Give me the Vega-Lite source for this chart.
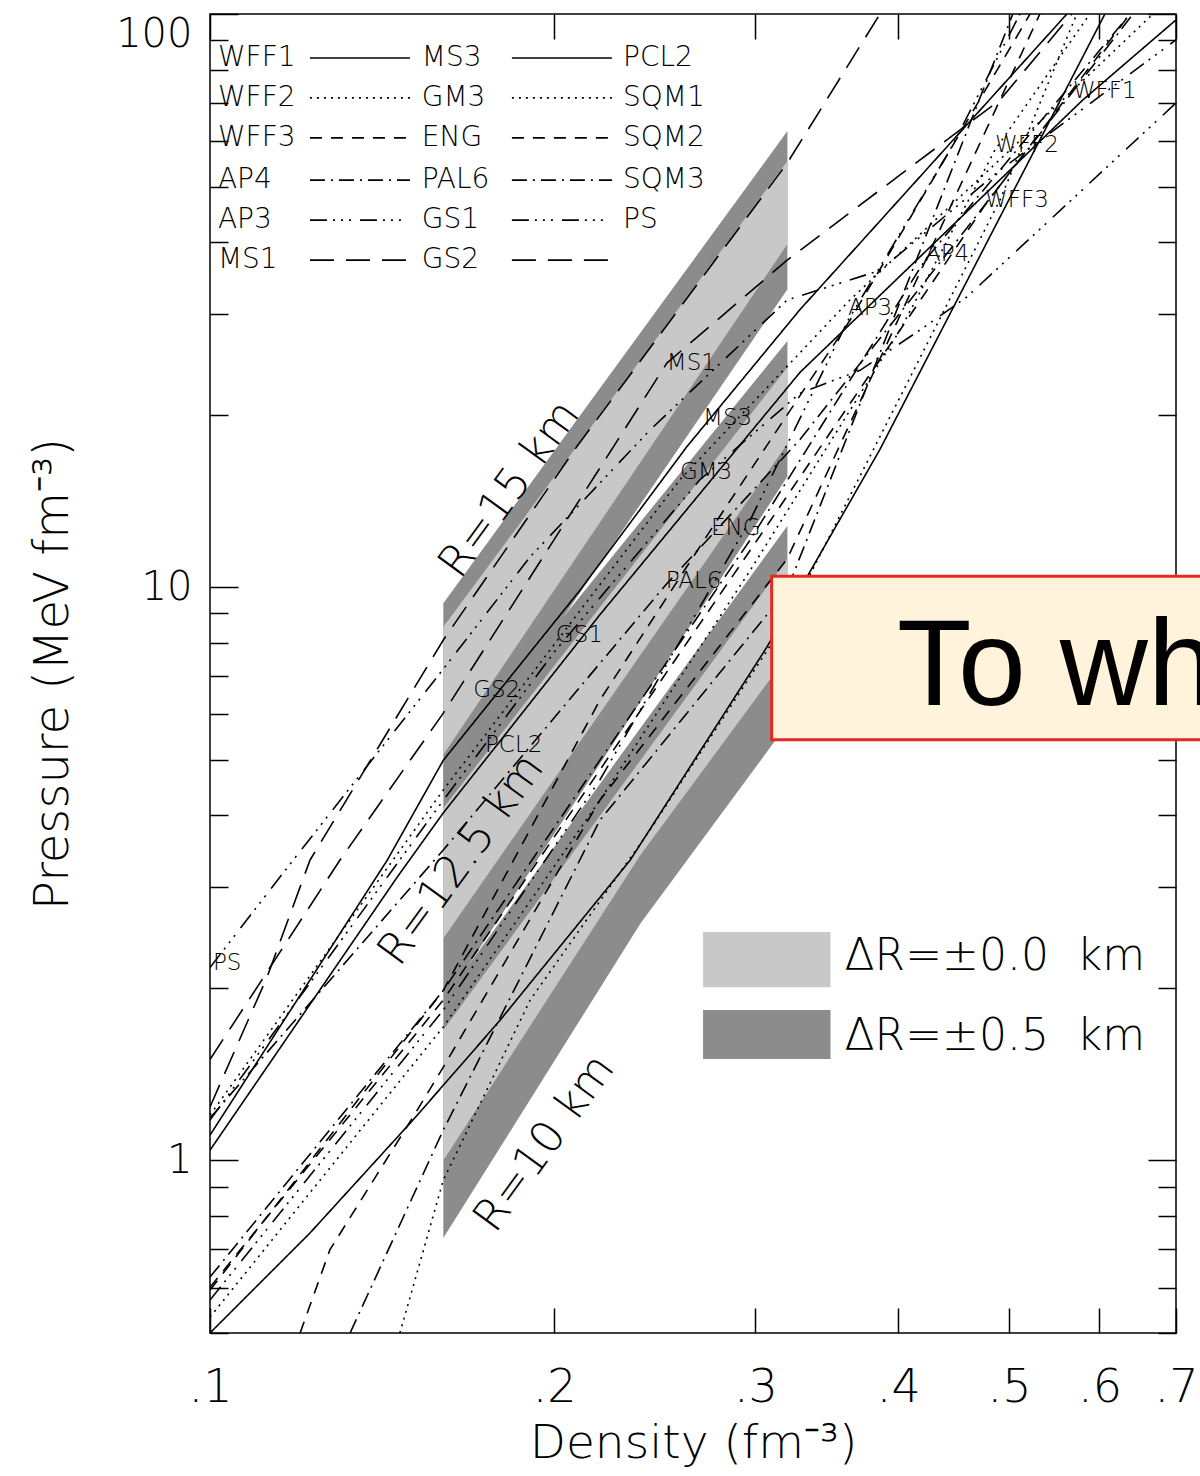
{
  "$schema": "https://vega.github.io/schema/vega-lite/v6.json",
  "width": 966,
  "height": 1319,
  "autosize": {"type": "none"},
  "padding": {"left": 210, "top": 14, "right": 24, "bottom": 143},
  "background": "white",
  "config": {
    "view": {"stroke": "black", "strokeWidth": 1.5},
    "font": "DejaVu Sans",
    "axis": {
      "domain": false,
      "grid": false,
      "tickColor": "black",
      "tickWidth": 1.5,
      "labelColor": "black",
      "titleColor": "black",
      "labelFont": "DejaVu Sans",
      "titleFont": "DejaVu Sans",
      "labelFontWeight": 200,
      "titleFontWeight": 200,
      "labelOverlap": false,
      "labelFlush": false
    }
  },
  "datasets": {
    "bandsDark": [
      {"R": "15", "d": 0.16, "lo": 4.38, "hi": 9.38},
      {"R": "15", "d": 0.32, "lo": 33.1, "hi": 62.5},
      {"R": "12.5", "d": 0.16, "lo": 1.875, "hi": 4.9},
      {"R": "12.5", "d": 0.32, "lo": 15.6, "hi": 26.9},
      {"R": "10", "d": 0.16, "lo": 0.732, "hi": 1.905},
      {"R": "10", "d": 0.238, "lo": 2.59, "hi": 5.68},
      {"R": "10", "d": 0.32, "lo": 5.77, "hi": 12.8}
    ],
    "bandsLight": [
      {"R": "15", "d": 0.16, "lo": 5.1, "hi": 8.52},
      {"R": "15", "d": 0.32, "lo": 39.7, "hi": 55.4},
      {"R": "12.5", "d": 0.16, "lo": 2.44, "hi": 4.12},
      {"R": "12.5", "d": 0.32, "lo": 17.8, "hi": 24.2},
      {"R": "10", "d": 0.16, "lo": 1.0, "hi": 1.688},
      {"R": "10", "d": 0.238, "lo": 3.41, "hi": 4.99},
      {"R": "10", "d": 0.32, "lo": 7.59, "hi": 11.2}
    ],
    "bandLabels": [
      {"label": "R=15 km", "d": 0.183, "P": 14.8},
      {"label": "R=12.5 km", "d": 0.166, "P": 3.34},
      {"label": "R=10 km", "d": 0.1963, "P": 1.07}
    ],
    "bandKey": [
      {"label": "ΔR=±0.0\u00a0\u00a0km", "d1": 0.27, "d2": 0.349, "p1": 2.006, "p2": 2.503, "pt": 2.264, "dt": 0.359},
      {"label": "ΔR=±0.5\u00a0\u00a0km", "d1": 0.27, "d2": 0.349, "p1": 1.503, "p2": 1.83, "pt": 1.642, "dt": 0.359}
    ],
    "eos": [
      {"eos": "WFF1", "style": "solid", "d": 0.1, "P": 0.5},
      {"eos": "WFF1", "style": "solid", "d": 0.1223, "P": 0.747},
      {"eos": "WFF1", "style": "solid", "d": 0.1505, "P": 1.176},
      {"eos": "WFF1", "style": "solid", "d": 0.1794, "P": 1.757},
      {"eos": "WFF1", "style": "solid", "d": 0.2331, "P": 3.34},
      {"eos": "WFF1", "style": "solid", "d": 0.307, "P": 7.86},
      {"eos": "WFF1", "style": "solid", "d": 0.3856, "P": 17.4},
      {"eos": "WFF1", "style": "solid", "d": 0.6066, "P": 100},

      {"eos": "WFF2", "style": "dotted", "d": 0.1, "P": 0.533},
      {"eos": "WFF2", "style": "dotted", "d": 0.16, "P": 1.71},
      {"eos": "WFF2", "style": "dotted", "d": 0.2193, "P": 4.25},
      {"eos": "WFF2", "style": "dotted", "d": 0.2969, "P": 10.7},
      {"eos": "WFF2", "style": "dotted", "d": 0.4015, "P": 28.1},
      {"eos": "WFF2", "style": "dotted", "d": 0.4861, "P": 57.9},
      {"eos": "WFF2", "style": "dotted", "d": 0.5884, "P": 100},

      {"eos": "WFF3", "style": "dashed", "d": 0.1, "P": 0.601},
      {"eos": "WFF3", "style": "dashed", "d": 0.16, "P": 1.905},
      {"eos": "WFF3", "style": "dashed", "d": 0.2193, "P": 4.8},
      {"eos": "WFF3", "style": "dashed", "d": 0.2969, "P": 11.6},
      {"eos": "WFF3", "style": "dashed", "d": 0.4015, "P": 28.1},
      {"eos": "WFF3", "style": "dashed", "d": 0.4764, "P": 46.4},
      {"eos": "WFF3", "style": "dashed", "d": 0.638, "P": 100},

      {"eos": "AP4", "style": "dashdot", "d": 0.1, "P": 0.626},
      {"eos": "AP4", "style": "dashdot", "d": 0.16, "P": 1.98},
      {"eos": "AP4", "style": "dashdot", "d": 0.2193, "P": 4.99},
      {"eos": "AP4", "style": "dashdot", "d": 0.2969, "P": 12.1},
      {"eos": "AP4", "style": "dashdot", "d": 0.4222, "P": 37.2},
      {"eos": "AP4", "style": "dashdot", "d": 0.6005, "P": 86.5},
      {"eos": "AP4", "style": "dashdot", "d": 0.638, "P": 100},

      {"eos": "AP3", "style": "dashdotdot", "d": 0.1, "P": 0.571},
      {"eos": "AP3", "style": "dashdotdot", "d": 0.16, "P": 1.83},
      {"eos": "AP3", "style": "dashdotdot", "d": 0.2193, "P": 4.61},
      {"eos": "AP3", "style": "dashdotdot", "d": 0.2969, "P": 13.1},
      {"eos": "AP3", "style": "dashdotdot", "d": 0.3615, "P": 29.2},
      {"eos": "AP3", "style": "dashdotdot", "d": 0.444, "P": 57.9},
      {"eos": "AP3", "style": "dashdotdot", "d": 0.5112, "P": 100},

      {"eos": "MS1", "style": "longdash", "d": 0.1, "P": 1.24},
      {"eos": "MS1", "style": "longdash", "d": 0.1122, "P": 2.09},
      {"eos": "MS1", "style": "longdash", "d": 0.1223, "P": 3.34},
      {"eos": "MS1", "style": "longdash", "d": 0.16, "P": 8.09},
      {"eos": "MS1", "style": "longdash", "d": 0.2094, "P": 17.6},
      {"eos": "MS1", "style": "longdash", "d": 0.3198, "P": 54.9},
      {"eos": "MS1", "style": "longdash", "d": 0.3856, "P": 100},

      {"eos": "MS3", "style": "solid", "d": 0.1, "P": 1.107},
      {"eos": "MS3", "style": "solid", "d": 0.1429, "P": 3.34},
      {"eos": "MS3", "style": "solid", "d": 0.16, "P": 4.99},
      {"eos": "MS3", "style": "solid", "d": 0.2108, "P": 9.89},
      {"eos": "MS3", "style": "solid", "d": 0.2614, "P": 17.6},
      {"eos": "MS3", "style": "solid", "d": 0.3282, "P": 30.5},
      {"eos": "MS3", "style": "solid", "d": 0.5619, "P": 100},

      {"eos": "GM3", "style": "dotted", "d": 0.1, "P": 1.2},
      {"eos": "GM3", "style": "dotted", "d": 0.16, "P": 4.43},
      {"eos": "GM3", "style": "dotted", "d": 0.2577, "P": 15.4},
      {"eos": "GM3", "style": "dotted", "d": 0.3629, "P": 31.7},
      {"eos": "GM3", "style": "dotted", "d": 0.5011, "P": 57.9},
      {"eos": "GM3", "style": "dotted", "d": 0.6682, "P": 100},

      {"eos": "ENG", "style": "dashed", "d": 0.1, "P": 0.594},
      {"eos": "ENG", "style": "dashed", "d": 0.16, "P": 1.98},
      {"eos": "ENG", "style": "dashed", "d": 0.2193, "P": 6.35},
      {"eos": "ENG", "style": "dashed", "d": 0.2743, "P": 12.6},
      {"eos": "ENG", "style": "dashed", "d": 0.3629, "P": 29.2},
      {"eos": "ENG", "style": "dashed", "d": 0.5217, "P": 100},

      {"eos": "PAL6", "style": "dashdot", "d": 0.1, "P": 1.186},
      {"eos": "PAL6", "style": "dashdot", "d": 0.16, "P": 3.48},
      {"eos": "PAL6", "style": "dashdot", "d": 0.2505, "P": 10.1},
      {"eos": "PAL6", "style": "dashdot", "d": 0.3282, "P": 18.1},
      {"eos": "PAL6", "style": "dashdot", "d": 0.444, "P": 38.8},
      {"eos": "PAL6", "style": "dashdot", "d": 0.642, "P": 100},

      {"eos": "GS1", "style": "dashdotdot", "d": 0.1, "P": 1.176},
      {"eos": "GS1", "style": "dashdotdot", "d": 0.16, "P": 4.25},
      {"eos": "GS1", "style": "dashdotdot", "d": 0.2007, "P": 7.77},
      {"eos": "GS1", "style": "dashdotdot", "d": 0.2683, "P": 15.4},
      {"eos": "GS1", "style": "dashdotdot", "d": 0.3282, "P": 21.8},
      {"eos": "GS1", "style": "dashdotdot", "d": 0.3704, "P": 23.9},
      {"eos": "GS1", "style": "dashdotdot", "d": 0.418, "P": 28.1},
      {"eos": "GS1", "style": "dashdotdot", "d": 0.4594, "P": 32.1},
      {"eos": "GS1", "style": "dashdotdot", "d": 0.6998, "P": 69.9},

      {"eos": "GS2", "style": "longdash", "d": 0.1, "P": 1.5},
      {"eos": "GS2", "style": "longdash", "d": 0.1299, "P": 3.34},
      {"eos": "GS2", "style": "longdash", "d": 0.16, "P": 6.03},
      {"eos": "GS2", "style": "longdash", "d": 0.251, "P": 24.6},
      {"eos": "GS2", "style": "longdash", "d": 0.3198, "P": 37.2},
      {"eos": "GS2", "style": "longdash", "d": 0.4015, "P": 52.4},
      {"eos": "GS2", "style": "longdash", "d": 0.4911, "P": 70.8},
      {"eos": "GS2", "style": "longdash", "d": 0.5675, "P": 100},

      {"eos": "PCL2", "style": "solid", "d": 0.1, "P": 1.042},
      {"eos": "PCL2", "style": "solid", "d": 0.1458, "P": 3.12},
      {"eos": "PCL2", "style": "solid", "d": 0.16, "P": 4.04},
      {"eos": "PCL2", "style": "solid", "d": 0.2193, "P": 8.95},
      {"eos": "PCL2", "style": "solid", "d": 0.3282, "P": 23.7},
      {"eos": "PCL2", "style": "solid", "d": 0.5802, "P": 70.8},
      {"eos": "PCL2", "style": "solid", "d": 0.6998, "P": 97.6},

      {"eos": "SQM1", "style": "dotted", "d": 0.1466, "P": 0.5},
      {"eos": "SQM1", "style": "dotted", "d": 0.16, "P": 0.924},
      {"eos": "SQM1", "style": "dotted", "d": 0.1906, "P": 1.905},
      {"eos": "SQM1", "style": "dotted", "d": 0.2426, "P": 3.77},
      {"eos": "SQM1", "style": "dotted", "d": 0.3198, "P": 8.77},
      {"eos": "SQM1", "style": "dotted", "d": 0.4911, "P": 47.4},
      {"eos": "SQM1", "style": "dotted", "d": 0.5732, "P": 100},

      {"eos": "SQM2", "style": "dashed", "d": 0.1199, "P": 0.5},
      {"eos": "SQM2", "style": "dashed", "d": 0.1273, "P": 0.698},
      {"eos": "SQM2", "style": "dashed", "d": 0.1505, "P": 1.19},
      {"eos": "SQM2", "style": "dashed", "d": 0.16, "P": 1.455},
      {"eos": "SQM2", "style": "dashed", "d": 0.2193, "P": 4.25},
      {"eos": "SQM2", "style": "dashed", "d": 0.3198, "P": 11.2},
      {"eos": "SQM2", "style": "dashed", "d": 0.5321, "P": 100},

      {"eos": "SQM3", "style": "dashdot", "d": 0.1326, "P": 0.5},
      {"eos": "SQM3", "style": "dashdot", "d": 0.16, "P": 1.13},
      {"eos": "SQM3", "style": "dashdot", "d": 0.2193, "P": 3.92},
      {"eos": "SQM3", "style": "dashdot", "d": 0.3198, "P": 9.89},
      {"eos": "SQM3", "style": "dashdot", "d": 0.5039, "P": 100},

      {"eos": "PS", "style": "dashdotdot", "d": 0.1, "P": 2.17},
      {"eos": "PS", "style": "dashdotdot", "d": 0.1151, "P": 3.12},
      {"eos": "PS", "style": "dashdotdot", "d": 0.16, "P": 7.2},
      {"eos": "PS", "style": "dashdotdot", "d": 0.1906, "P": 11.3},
      {"eos": "PS", "style": "dashdotdot", "d": 0.2426, "P": 18.8},
      {"eos": "PS", "style": "dashdotdot", "d": 0.3198, "P": 31.7},
      {"eos": "PS", "style": "dashdotdot", "d": 0.3856, "P": 35.7},
      {"eos": "PS", "style": "dashdotdot", "d": 0.4911, "P": 53.4},
      {"eos": "PS", "style": "dashdotdot", "d": 0.6998, "P": 90.1}
    ],
    "eosLabels": [
      {"name": "MS1", "d": 0.251, "P": 24.6},
      {"name": "MS3", "d": 0.27, "P": 19.7},
      {"name": "GM3", "d": 0.2577, "P": 15.9},
      {"name": "ENG", "d": 0.2743, "P": 12.7},
      {"name": "PAL6", "d": 0.2505, "P": 10.25},
      {"name": "GS1", "d": 0.2007, "P": 8.26},
      {"name": "GS2", "d": 0.1699, "P": 6.62},
      {"name": "PCL2", "d": 0.174, "P": 5.31},
      {"name": "AP3", "d": 0.3615, "P": 30.7},
      {"name": "AP4", "d": 0.4222, "P": 38.1},
      {"name": "WFF3", "d": 0.4764, "P": 47.4},
      {"name": "WFF2", "d": 0.4861, "P": 59.1},
      {"name": "WFF1", "d": 0.5687, "P": 73.4},
      {"name": "PS", "d": 0.1006, "P": 2.21}
    ],
    "keyNames": [
      {"name": "WFF1", "d": 0.1016, "P": 83.8},
      {"name": "WFF2", "d": 0.1016, "P": 71.4},
      {"name": "WFF3", "d": 0.1016, "P": 60.8},
      {"name": "AP4", "d": 0.1016, "P": 51.3},
      {"name": "AP3", "d": 0.1016, "P": 43.7},
      {"name": "MS1", "d": 0.1016, "P": 37.2},
      {"name": "MS3", "d": 0.1532, "P": 83.8},
      {"name": "GM3", "d": 0.1532, "P": 71.4},
      {"name": "ENG", "d": 0.1532, "P": 60.8},
      {"name": "PAL6", "d": 0.1532, "P": 51.3},
      {"name": "GS1", "d": 0.1532, "P": 43.7},
      {"name": "GS2", "d": 0.1532, "P": 37.2},
      {"name": "PCL2", "d": 0.2298, "P": 83.8},
      {"name": "SQM1", "d": 0.2298, "P": 71.4},
      {"name": "SQM2", "d": 0.2298, "P": 60.8},
      {"name": "SQM3", "d": 0.2298, "P": 51.3},
      {"name": "PS", "d": 0.2298, "P": 43.7}
    ],
    "keyLines": [
      {"style": "solid", "d1": 0.1223, "d2": 0.1496, "P": 83.8},
      {"style": "solid", "d1": 0.1837, "d2": 0.2247, "P": 83.8},
      {"style": "dotted", "d1": 0.1223, "d2": 0.1496, "P": 71.4},
      {"style": "dotted", "d1": 0.1837, "d2": 0.2247, "P": 71.4},
      {"style": "dashed", "d1": 0.1223, "d2": 0.1496, "P": 60.8},
      {"style": "dashed", "d1": 0.1837, "d2": 0.2247, "P": 60.8},
      {"style": "dashdot", "d1": 0.1223, "d2": 0.1496, "P": 51.3},
      {"style": "dashdot", "d1": 0.1837, "d2": 0.2247, "P": 51.3},
      {"style": "dashdotdot", "d1": 0.1223, "d2": 0.1496, "P": 43.7},
      {"style": "dashdotdot", "d1": 0.1837, "d2": 0.2247, "P": 43.7},
      {"style": "longdash", "d1": 0.1223, "d2": 0.1496, "P": 37.2},
      {"style": "longdash", "d1": 0.1837, "d2": 0.2247, "P": 37.2}
    ],
    "callout": [
      {"text": "To what", "d1": 0.31, "d2": 0.75, "p1": 5.42, "p2": 10.45, "dt": 0.399, "pt": 6.23}
    ]
  },
  "layer": [
    {
      "data": {"name": "bandsDark"},
      "mark": {"type": "area", "fill": "#8c8c8c", "stroke": null},
      "encoding": {
        "x": {
          "field": "d", "type": "quantitative",
          "scale": {"type": "log", "domain": [0.1, 0.7], "nice": false},
          "axis": {
            "orient": "bottom",
            "values": [0.1, 0.2, 0.3, 0.4, 0.5, 0.6, 0.7],
            "labelExpr": "replace(format(datum.value, '.1f'), '0.', '.')",
            "tickSize": -25,
            "labelFontSize": 46,
            "labelPadding": 57,
            "title": "Density (fm⁻³)",
            "titleFontSize": 47,
            "titlePadding": 10
          }
        },
        "y": {
          "field": "lo", "type": "quantitative",
          "scale": {"type": "log", "domain": [0.5, 100], "nice": false},
          "axis": {
            "orient": "left",
            "values": [0.5, 0.6, 0.7, 0.8, 0.9, 1, 2, 3, 4, 5, 6, 7, 8, 9, 10, 20, 30, 40, 50, 60, 70, 80, 90, 100],
            "labelExpr": "datum.value == 1 || datum.value == 10 || datum.value == 100 ? format(datum.value, 'd') : ''",
            "labelFlush": 2,
            "tickSize": {"condition": {"test": "datum.value == 1 || datum.value == 10 || datum.value == 100", "value": -28}, "value": -18},
            "labelFontSize": 40,
            "labelPadding": 46,
            "title": "Pressure (MeV fm⁻³)",
            "titleFontSize": 48,
            "titlePadding": 38
          }
        },
        "y2": {"field": "hi"},
        "detail": {"field": "R"}
      }
    },
    {
      "data": {"name": "bandsLight"},
      "mark": {"type": "area", "fill": "#c8c8c8", "stroke": null},
      "encoding": {
        "x": {
          "field": "d", "type": "quantitative",
          "scale": {"type": "log", "domain": [0.1, 0.7], "nice": false},
          "axis": {
            "orient": "top",
            "values": [0.1, 0.2, 0.3, 0.4, 0.5, 0.6, 0.7],
            "labels": false,
            "tickSize": -25,
            "title": null
          }
        },
        "y": {
          "field": "lo", "type": "quantitative",
          "scale": {"type": "log", "domain": [0.5, 100], "nice": false},
          "axis": {
            "orient": "right",
            "values": [0.5, 0.6, 0.7, 0.8, 0.9, 1, 2, 3, 4, 5, 6, 7, 8, 9, 10, 20, 30, 40, 50, 60, 70, 80, 90, 100],
            "labels": false,
            "tickSize": {"condition": {"test": "datum.value == 1 || datum.value == 10 || datum.value == 100", "value": -28}, "value": -18},
            "title": null
          }
        },
        "y2": {"field": "hi"},
        "detail": {"field": "R"}
      }
    },
    {
      "data": {"name": "bandLabels"},
      "mark": {"type": "text", "angle": -54, "fontSize": 44, "fontWeight": 200, "font": "DejaVu Sans", "align": "center", "baseline": "middle", "color": "black"},
      "encoding": {
        "x": {"field": "d", "type": "quantitative", "axis": null},
        "y": {"field": "P", "type": "quantitative", "axis": null},
        "text": {"field": "label"}
      }
    },
    {
      "data": {"name": "eos"},
      "mark": {"type": "line", "clip": true, "color": "black", "strokeWidth": 1.6},
      "encoding": {
        "x": {"field": "d", "type": "quantitative", "axis": null},
        "y": {"field": "P", "type": "quantitative", "axis": null},
        "detail": {"field": "eos"},
        "strokeDash": {
          "field": "style", "type": "nominal", "legend": null,
          "scale": {
            "domain": ["solid", "dotted", "dashed", "dashdot", "dashdotdot", "longdash"],
            "range": [[1, 0], [2, 5], [12, 9], [15, 6, 2, 6], [17, 6, 2, 6, 2, 6, 2, 9], [24, 12]]
          }
        }
      }
    },
    {
      "data": {"name": "eosLabels"},
      "mark": {"type": "text", "fontSize": 23, "fontWeight": 200, "font": "DejaVu Sans", "align": "left", "baseline": "middle", "color": "black"},
      "encoding": {
        "x": {"field": "d", "type": "quantitative", "axis": null},
        "y": {"field": "P", "type": "quantitative", "axis": null},
        "text": {"field": "name"}
      }
    },
    {
      "data": {"name": "keyNames"},
      "mark": {"type": "text", "fontSize": 28, "fontWeight": 200, "font": "DejaVu Sans", "align": "left", "baseline": "middle", "color": "black"},
      "encoding": {
        "x": {"field": "d", "type": "quantitative", "axis": null},
        "y": {"field": "P", "type": "quantitative", "axis": null},
        "text": {"field": "name"}
      }
    },
    {
      "data": {"name": "keyLines"},
      "mark": {"type": "rule", "color": "black", "strokeWidth": 1.6},
      "encoding": {
        "x": {"field": "d1", "type": "quantitative", "axis": null},
        "x2": {"field": "d2"},
        "y": {"field": "P", "type": "quantitative", "axis": null},
        "strokeDash": {"field": "style", "type": "nominal", "legend": null}
      }
    },
    {
      "data": {"name": "bandKey"},
      "mark": {"type": "rect", "stroke": null},
      "encoding": {
        "x": {"field": "d1", "type": "quantitative", "axis": null},
        "x2": {"field": "d2"},
        "y": {"field": "p1", "type": "quantitative", "axis": null},
        "y2": {"field": "p2"},
        "fill": {
          "field": "label", "type": "nominal", "legend": null,
          "scale": {"domain": ["ΔR=±0.0\u00a0\u00a0km", "ΔR=±0.5\u00a0\u00a0km"], "range": ["#c8c8c8", "#8c8c8c"]}
        }
      }
    },
    {
      "data": {"name": "bandKey"},
      "mark": {"type": "text", "fontSize": 44, "fontWeight": 200, "font": "DejaVu Sans", "align": "left", "baseline": "middle", "color": "black"},
      "encoding": {
        "x": {"field": "dt", "type": "quantitative", "axis": null},
        "y": {"field": "pt", "type": "quantitative", "axis": null},
        "text": {"field": "label"}
      }
    },
    {
      "data": {"name": "callout"},
      "mark": {"type": "rect", "fill": "#fff3dc", "stroke": "#e8281e", "strokeWidth": 3, "clip": false},
      "encoding": {
        "x": {"field": "d1", "type": "quantitative", "axis": null},
        "x2": {"field": "d2"},
        "y": {"field": "p1", "type": "quantitative", "axis": null},
        "y2": {"field": "p2"}
      }
    },
    {
      "data": {"name": "callout"},
      "mark": {"type": "text", "fontSize": 122, "font": "Liberation Sans", "align": "left", "baseline": "alphabetic", "color": "black"},
      "encoding": {
        "x": {"field": "dt", "type": "quantitative", "axis": null},
        "y": {"field": "pt", "type": "quantitative", "axis": null},
        "text": {"field": "text"}
      }
    }
  ],
  "resolve": {"axis": {"x": "independent", "y": "independent"}}
}
